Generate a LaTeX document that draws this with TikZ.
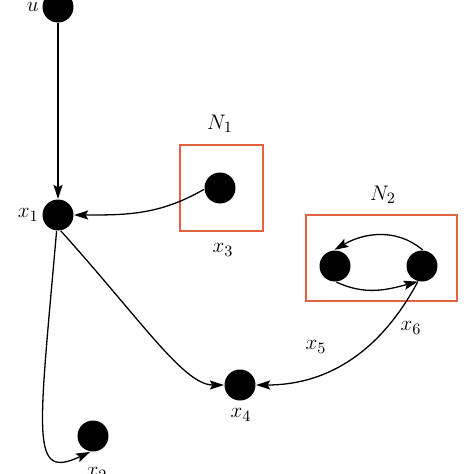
\documentclass[tikz,border=0pt]{standalone}
\usetikzlibrary{arrows.meta,positioning}

\definecolor{boxred}{RGB}{226,98,66}

\tikzset{
  vertex/.style={circle, fill=black, minimum size=0.62cm, inner sep=0pt},
  netbox/.style={draw=boxred, line width=0.26mm, inner sep=0pt},
  tag/.style={font=\fontsize{12.5}{15}\selectfont, inner sep=1pt}
}

\begin{document}
\begin{tikzpicture} [x=0.02cm,y=-0.02cm,line width=0.26mm,
  ->,>={Stealth[length=8pt,width=5.2pt,inset=1.5pt]}]

  \useasboundingbox (0,0) rectangle (474,474);

  % boxes
  \node[netbox, minimum width=1.66cm, minimum height=1.72cm] (B1) at (221.5,188) {};
  \node[netbox, minimum width=3.02cm, minimum height=1.72cm] (B2) at (381.5,258) {};

  % vertices
  \node[vertex] (u) at (58,7) {};
  \node[vertex] (x1) at (58,215) {};
  \node[vertex] (x3) at (220,188) {};
  \node[vertex] (x4) at (240,385) {};
  \node[vertex] (x2) at (93,436) {};
  \node[vertex] (x5) at (335,266) {};
  \node[vertex] (x6) at (422,266) {};

  % labels
  \node[tag, anchor=east] (lu) at (41,7) {$u$};
  \node[tag, anchor=east] (l1) at (41,215) {$x_1$};
  \node[tag] (l3) at (223,250) {$x_3$};
  \node[tag] (n1) at (220,124) {$N_1$};
  \node[tag] (n2) at (383,195) {$N_2$};
  \node[tag] (l4) at (241,415) {$x_4$};
  \node[tag] (l5) at (316,347) {$x_5$};
  \node[tag] (l6) at (411,328) {$x_6$};
  \node[tag] (l2) at (97,474) {$x_2$};

  \path
    (u) edge (x1)
    (x3.185) edge [out=-150,in=0] (x1)
    (x1.-80) edge [out=-48,in=180,out distance=2.4cm,in distance=0.8cm] (x4)
    (x1.-95) edge [out=-95,in=-155,out distance=4.2cm,in distance=1.32cm] (x2.-100)
    (x6.-105) edge [out=-118,in=0] (x4)
    (x6.88) edge [out=140,in=30] (x5.92)
    (x5.-85) edge [out=-25,in=-165] (x6.-105);

\end{tikzpicture}
\end{document}
